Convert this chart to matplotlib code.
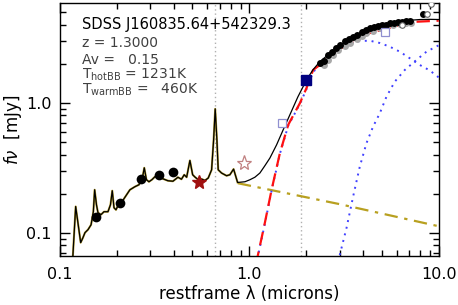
import numpy as np
import matplotlib
matplotlib.use("Agg")
import matplotlib.pyplot as plt
from matplotlib.ticker import FixedLocator, FixedFormatter, NullFormatter

# ---------------- data ----------------
# total model (template + power law + black bodies)
model_wl = [0.1165, 0.121, 0.1286, 0.1322, 0.1355, 0.1406, 0.1459, 0.150, 0.1524, 0.1558,
            0.1587, 0.1646, 0.1707, 0.1792, 0.1847, 0.1888, 0.1928, 0.1975, 0.2023, 0.2124,
            0.2230, 0.234, 0.2487, 0.2612, 0.2725, 0.2786, 0.286, 0.2949, 0.3058, 0.3173,
            0.3311, 0.3496, 0.3714, 0.3947, 0.4195, 0.4378, 0.4529, 0.4664, 0.4853, 0.5017,
            0.5159, 0.537, 0.5597, 0.5825, 0.6063, 0.6317, 0.6474, 0.660, 0.6738, 0.6846,
            0.713, 0.758, 0.789, 0.8253, 0.8664, 0.947, 1.006, 1.069, 1.136, 1.207,
            1.283, 1.392, 1.508, 1.636, 1.803, 2.004, 2.163, 2.355, 2.66, 3.004,
            3.391, 3.830, 4.324, 4.884, 5.512, 6.226, 7.031, 7.94, 8.966, 10.0]
model_fl = [0.060, 0.159, 0.0838, 0.0915, 0.100, 0.1055, 0.115, 0.145, 0.214, 0.164,
            0.1425, 0.1376, 0.145, 0.145, 0.164, 0.2104, 0.1557, 0.150, 0.1613, 0.173,
            0.1926, 0.214, 0.226, 0.234, 0.265, 0.316, 0.256, 0.2467, 0.256, 0.270,
            0.2745, 0.260, 0.2512, 0.249, 0.2673, 0.258, 0.2794, 0.2673, 0.360, 0.2794,
            0.2683, 0.2557, 0.2588, 0.2525, 0.2635, 0.305, 0.519, 0.899, 0.519, 0.305,
            0.288, 0.2745, 0.2794, 0.309, 0.2437, 0.2467, 0.2556, 0.2673, 0.288, 0.3278,
            0.3756, 0.475, 0.620, 0.809, 1.112, 1.503, 1.794, 2.078, 2.411, 2.711,
            3.026, 3.365, 3.676, 3.911, 4.089, 4.237, 4.33, 4.388, 4.404, 4.39]

# power-law continuum
pl_wl = [0.8695, 3.004, 10.0]
pl_fl = [0.2404, 0.1657, 0.1120]

# hot + warm black body sum
bbsum_wl = [1.082, 1.207, 1.31, 1.449, 1.603, 1.848, 2.004, 2.171, 2.355, 2.66,
            3.258, 4.324, 5.981, 7.627, 10.0]
bbsum_fl = [0.0567, 0.119, 0.214, 0.410, 0.677, 0.995, 1.304, 1.794, 1.96, 2.299,
            2.794, 3.455, 3.911, 4.222, 4.30]

# hot black body
hot_wl = [1.082, 1.207, 1.31, 1.449, 1.603, 1.848, 2.004, 2.171, 2.355, 2.66,
          3.004, 3.391, 3.830, 4.324, 4.884, 5.512, 6.226, 7.031, 7.94, 8.966, 10.0]
hot_fl = [0.0555, 0.117, 0.211, 0.405, 0.666, 0.982, 1.28, 1.73, 1.96, 2.279,
          2.65, 2.879, 2.999, 3.015, 2.894, 2.711, 2.481, 2.207, 1.96, 1.778, 1.57]

# warm black body
warm_wl = [2.931, 3.004, 3.258, 3.531, 3.830, 4.153, 4.501, 4.884, 5.297, 5.859,
           6.617, 7.627, 8.612, 10.0]
warm_fl = [0.0598, 0.0677, 0.1087, 0.190, 0.3236, 0.4898, 0.657, 0.833, 1.118, 1.458,
           1.794, 2.142, 2.481, 2.78]

# photometry
opt_wl = [0.154, 0.207, 0.269, 0.332, 0.396]
opt_fl = [0.133, 0.170, 0.260, 0.279, 0.292]

ir_wl = [2.347, 2.473, 2.605, 2.715, 2.86, 3.004, 3.19, 3.36, 3.53, 3.72,
         3.91, 4.12, 4.32, 4.54, 4.77, 5.00, 5.25, 5.51, 5.79, 6.08,
         6.38, 6.70, 7.03, 8.27]
ir_fl = [2.04, 2.115, 2.34, 2.48, 2.66, 2.79, 2.98, 3.09, 3.20, 3.33,
         3.50, 3.64, 3.75, 3.86, 3.91, 3.96, 4.0, 4.10, 4.15, 4.18,
         4.20, 4.25, 4.27, 4.84]

gray_wl = [2.473, 2.605, 2.77, 2.942, 3.19, 3.391, 3.68, 3.91, 4.153, 4.501,
           4.884, 5.297, 5.739, 6.226, 6.755, 7.176]
gray_fl = [1.96, 2.142, 2.34, 2.557, 2.76, 2.91, 3.107, 3.277, 3.438, 3.60,
           3.755, 3.863, 3.981, 4.053, 4.103, 4.147]

ring_wl = [6.40, 8.676, 9.07]
ring_fl = [3.98, 4.84, 5.77]

star_wl, star_fl = [0.540], [0.245]
ostar_wl, ostar_fl = [0.939], [0.347]
bsq_wl, bsq_fl = [2.0], [1.50]
osq_wl, osq_fl = [1.479, 5.23], [0.70, 3.54]

line_marks = [0.6563, 1.875]

title = "SDSS J160835.64+542329.3"
info = ["z = 1.3000", "Av =   0.15",
        r"T$_{\rm hotBB}$ = 1231K", r"T$_{\rm warmBB}$ =   460K"]

xticks = [0.1, 1.0, 10.0]
xticklabels = ["0.1", "1.0", "10.0"]
yticks = [0.1, 1.0]
yticklabels = ["0.1", "1.0"]

# ---------------- plot ----------------
fig = plt.figure(figsize=(4.58, 3.05), dpi=100)
ax = fig.add_axes([0.131, 0.161, 0.827, 0.829])
ax.set_xscale("log")
ax.set_yscale("log")
ax.set_xlim(0.1, 10.0)
ax.set_ylim(0.0662, 5.88)

for lm in line_marks:
    ax.axvline(lm, color="#b0b0b0", ls=(0, (1, 2)), lw=1.0, zorder=1)

# template part underlay (olive fringe)
tmask = [w <= 0.87 for w in model_wl]
ax.plot([w for w, m in zip(model_wl, tmask) if m], [f for f, m in zip(model_fl, tmask) if m],
        color="#b8a030", lw=1.5, zorder=2)
ax.plot(pl_wl, pl_fl, color="#b8a020", lw=1.6, ls=(0, (6, 3, 1.5, 3)), zorder=2)
ax.plot(hot_wl, hot_fl, color="#4040ff", lw=1.4, ls=(0, (1, 2.5)), zorder=3)
ax.plot(warm_wl, warm_fl, color="#4040ff", lw=1.4, ls=(0, (1, 2.5)), zorder=3)
ax.plot(bbsum_wl, bbsum_fl, color="#ff1010", lw=1.6, ls=(0, (6, 3)), zorder=3)
ax.plot(model_wl, model_fl, color="black", lw=0.9, zorder=4)

ax.plot(gray_wl, gray_fl, "o", color="#a8a8a8", ms=5, mec="none", zorder=5)
ax.plot(ir_wl, ir_fl, "o", color="black", ms=5, mec="none", zorder=6)
ax.plot(ring_wl, ring_fl, "o", mfc="white", mec="#606060", ms=4, mew=0.8, zorder=6)
ax.plot(opt_wl, opt_fl, "o", color="black", ms=7, mec="none", zorder=6)
ax.plot(star_wl, star_fl, "*", color="#a01010", ms=10, mec="#a01010", zorder=6)
ax.plot(ostar_wl, ostar_fl, "*", mfc="white", mec="#c08080", ms=11, mew=0.9, zorder=6)
ax.plot(bsq_wl, bsq_fl, "s", color="#000080", ms=7, zorder=7)
ax.plot(osq_wl, osq_fl, "s", mfc="white", mec="#9090d0", ms=6, mew=0.9, zorder=6)

# ticks
ax.xaxis.set_major_locator(FixedLocator(xticks))
ax.xaxis.set_major_formatter(FixedFormatter(xticklabels))
ax.yaxis.set_major_locator(FixedLocator(yticks))
ax.yaxis.set_major_formatter(FixedFormatter(yticklabels))
ax.xaxis.set_minor_formatter(NullFormatter())
ax.yaxis.set_minor_formatter(NullFormatter())
ax.tick_params(which="both", direction="in", top=True, right=True, width=1.0, colors="black")
ax.tick_params(which="major", length=7, labelsize=11.5)
ax.tick_params(axis="x", which="major", pad=8)
ax.tick_params(axis="y", which="major", pad=6)
ax.tick_params(which="minor", length=4)
for sp in ax.spines.values():
    sp.set_linewidth(1.0)

ax.set_xlabel("restframe λ (microns)", fontsize=12, labelpad=2)
fig.text(13 / 458, 0.5 * (0.161 + 0.990), r"$f\nu$  [mJy]", fontsize=12,
         rotation=90, ha="center", va="center")

fig.text(0.178, 0.905, title, fontsize=10.5, color="black", va="baseline")
ys = [0.846, 0.790, 0.741, 0.692]
for t, yy in zip(info, ys):
    fig.text(0.178, yy, t, fontsize=10, color="#404040", va="baseline")

fig.savefig("out.png", dpi=100)
